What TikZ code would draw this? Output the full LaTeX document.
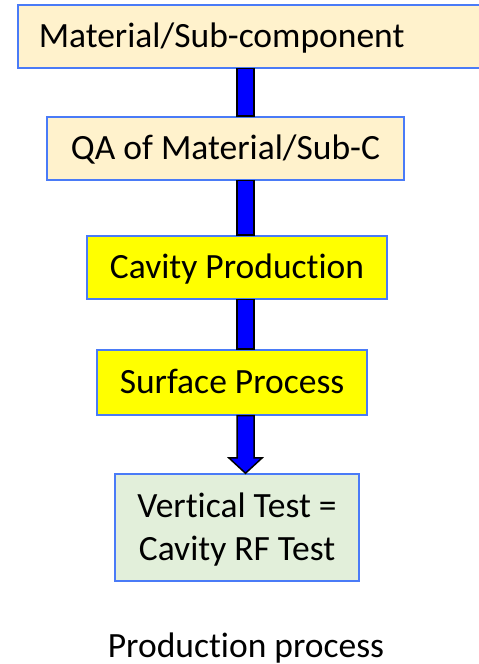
\documentclass[tikz,border=0pt]{standalone}
\usepackage{fontspec}
\setmainfont{Carlito}[Ligatures=NoCommon]
\usepackage{tikz}
\usetikzlibrary{
  arrows.meta,
  positioning,
  calc
}
\definecolor{ppBorder}{HTML}{4A7BF7}
\definecolor{ppCream}{HTML}{FFF2CC}
\definecolor{ppYellow}{HTML}{FFFF00}
\definecolor{ppGreen}{HTML}{E2EFDA}
\definecolor{ppShaft}{HTML}{0000FF}
\tikzset{
  stepbox/.style={
    draw=ppBorder, line width=1.5pt, inner sep=0pt, minimum height=63pt,
    font=\fontsize{35.5}{43}\selectfont, align=center,
    text height=23pt, text depth=0pt
  },
  creambox/.style={stepbox, fill=ppCream},
  yellowbox/.style={stepbox, fill=ppYellow},
  testbox/.style={stepbox, fill=ppGreen, minimum height=107pt, text height=66pt},
  shaft/.style={draw=black, fill=ppShaft, line width=1.5pt},
  caption/.style={font=\fontsize{35.5}{43}\selectfont, inner sep=0pt}
}

\begin{document}
\begin{tikzpicture}[x=1pt, y=1pt]
  \useasboundingbox (0,0) rectangle (479,664);
  \clip (0,0) rectangle (479,664);
  % spine of the flow
  \coordinate (sL) at (237,0);
  \coordinate (sR) at (254,0);
  \coordinate (sM) at (245.5,0);
  \coordinate (hL) at (229,0);
  \coordinate (hR) at (262,0);
  \coordinate (hb) at (0,206);
  % steps
  \node[creambox, anchor=west, minimum width=540pt, text width=498pt, align=left, inner xsep=21pt]
    (mat) at (17,627.5) {Material/Sub-component};
  \node[creambox, minimum width=357pt] (qa) at (225.5,515.5) {QA of Material/Sub-C};
  \node[yellowbox, minimum width=300pt] (cav) at (237,396.5) {Cavity Production};
  \node[yellowbox, minimum width=270pt, minimum height=65pt] (sp) at (232,281.5) {Surface Process};
  \node[testbox, minimum width=244pt] (vt) at (237,136.5) {Vertical Test =\\Cavity RF Test};
  \node[caption, anchor=base] (cap) at (246,6) {Production process};
  % connectors
  \draw[shaft] (sL |- mat.south) rectangle (sR |- qa.north);
  \draw[shaft] (sL |- qa.south) rectangle (sR |- cav.north);
  \draw[shaft] (sL |- cav.south) rectangle (sR |- sp.north);
  \draw[shaft, line join=miter]
    (sL |- sp.south) -- (sL |- hb) -- (hL |- hb) -- (sM |- vt.north)
    -- (hR |- hb) -- (sR |- hb) -- (sR |- sp.south) -- cycle;
\end{tikzpicture}
\end{document}
